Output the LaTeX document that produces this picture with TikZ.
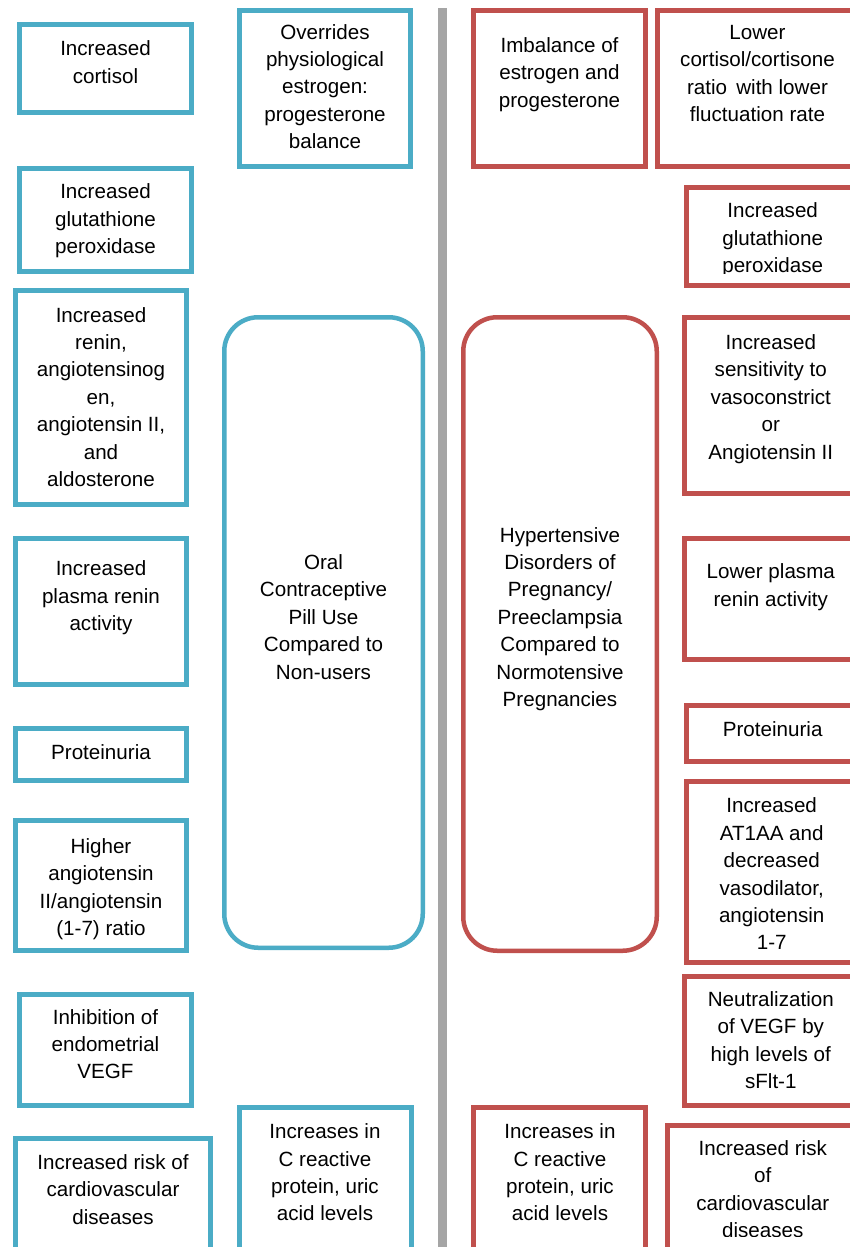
\documentclass[tikz,border=0pt]{standalone}
\usepackage{fontspec}
\setmainfont{Liberation Sans}
\definecolor{cblue}{HTML}{4BACC6}
\definecolor{cred}{HTML}{C0504D}
\definecolor{cgrey}{HTML}{A5A5A5}
\newcommand\fs{\fontsize{20.6pt}{27.4pt}\selectfont}
\newcommand\sr{\rule[-8.4pt]{0pt}{27.4pt}}
\tikzset{
  bbox/.style={draw=cblue, line width=5pt},
  rbox/.style={draw=cred, line width=5pt},
  bround/.style={draw=cblue, line width=4.5pt, rounded corners=34pt},
  rround/.style={draw=cred, line width=4.5pt, rounded corners=34pt},
  txt/.style={font=\fs, align=center, inner sep=0pt, text=black},
}
\begin{document}
\begin{tikzpicture}[x=1pt,y=-1pt]
\useasboundingbox (0,0) rectangle (850,1247);
\clip (0,0) rectangle (850,1247);
\fill[white] (0,0) rectangle (850,1247);
% divider
\fill[cgrey] (438,8) rectangle (447,1260);
% ---------- left (blue) ----------
\draw[bbox] (19.5,24.5) rectangle (191.5,112.5);
\node[txt] (lcort) at (105.5,64) {\sr Increased\\cortisol\sr};
\draw[bbox] (239.5,10.5) rectangle (410.5,166.5);
\node[txt] (lover) at (325,88.5) {\sr Overrides\\physiological\\estrogen:\\progesterone\\balance\sr};
\draw[bbox] (19.5,168.5) rectangle (191.5,271.5);
\node[txt] (lglut) at (105.5,221) {\sr Increased\\glutathione\\peroxidase\sr};
\draw[bbox] (15.5,290.5) rectangle (186.5,504.5);
\node[txt] (lrenin) at (101,399) {\sr Increased\\renin,\\angiotensinog\\en,\\angiotensin II,\\and\\aldosterone\sr};
\draw[bbox] (15.5,538.5) rectangle (186.5,684.5);
\node[txt] (lplas) at (101,598) {\sr Increased\\plasma renin\\activity\sr};
\draw[bbox] (15.5,728.5) rectangle (186.5,780.5);
\node[txt] (lprot) at (101,753.7) {\sr Proteinuria\sr};
\draw[bbox] (15.5,820.5) rectangle (186.5,950.5);
\node[txt] (lhigh) at (101,889) {\sr Higher\\angiotensin\\II/angiotensin\\(1-7) ratio\sr};
\draw[bbox] (19.5,994.5) rectangle (191.5,1105.5);
\node[txt] (linh) at (105.5,1046.2) {\sr Inhibition of\\endometrial\\VEGF\sr};
\draw[bbox] (15.5,1138.5) rectangle (210.5,1262);
\node[txt] (lrisk) at (113,1191.4) {\sr Increased risk of\\cardiovascular\\diseases\sr};
\draw[bbox] (239.5,1107.5) rectangle (411.5,1262);
\node[txt] (lcrp) at (325,1174.4) {\sr Increases in\\C reactive\\protein, uric\\acid levels\sr};
\draw[bround] (224.25,317.25) rectangle (422.75,947.75);
\node[txt] (loral) at (323.5,619) {\sr Oral\\Contraceptive\\Pill Use\\Compared to\\Non-users\sr};
% ---------- right (red) ----------
\draw[rbox] (473.5,10.5) rectangle (645.5,166.5);
\node[txt] (rimb) at (559.5,74.5) {\sr Imbalance of\\estrogen and\\progesterone\sr};
\draw[rbox] (657.5,10.5) rectangle (870,166.5);
\node[txt] (rcort) at (757.5,75.2) {\sr Lower\\cortisol/cortisone\\ratio\, with lower\\fluctuation rate\sr};
\draw[rbox] (686.5,187.5) rectangle (870,285.5);
\begin{scope}
\clip (680,180) rectangle (860,273);
\node[txt] (rglut) at (772.7,240) {\sr Increased\\glutathione\\peroxidase\sr};
\end{scope}
\draw[rbox] (684.5,317.5) rectangle (870,493.5);
\node[txt] (rsens) at (770.8,399) {\sr Increased\\sensitivity to\\vasoconstrict\\or\\Angiotensin II\sr};
\draw[rbox] (684.5,538.5) rectangle (870,659.5);
\node[txt] (rplas) at (770.8,587.2) {\sr Lower plasma\\renin activity\sr};
\draw[rbox] (686.5,705.5) rectangle (870,761.5);
\node[txt] (rprot) at (772.7,731.4) {\sr Proteinuria\sr};
\draw[rbox] (686.5,781.5) rectangle (870,962.5);
\node[txt] (rat1) at (771.7,876) {\sr Increased\\AT1AA and\\decreased\\vasodilator,\\angiotensin\\1-7\sr};
\draw[rbox] (684.5,976.5) rectangle (870,1105.5);
\node[txt] (rneu) at (770.8,1042.2) {\sr Neutralization\\of VEGF by\\high levels of\\sFlt-1\sr};
\draw[rbox] (473.5,1107.5) rectangle (645.5,1262);
\node[txt] (rcrp) at (560,1174.4) {\sr Increases in\\C reactive\\protein, uric\\acid levels\sr};
\draw[rbox] (667.5,1125.5) rectangle (870,1262);
\begin{scope}
\clip (660,1120) rectangle (860,1236);
\node[txt] (rrisk) at (762.8,1191) {\sr Increased risk\\of\\cardiovascular\\diseases\sr};
\end{scope}
\draw[rround] (463.25,317.25) rectangle (656.75,950.75);
\node[txt] (rhyp) at (560,619) {\sr Hypertensive\\Disorders of\\Pregnancy/\\Preeclampsia\\Compared to\\Normotensive\\Pregnancies\sr};
\end{tikzpicture}
\end{document}
